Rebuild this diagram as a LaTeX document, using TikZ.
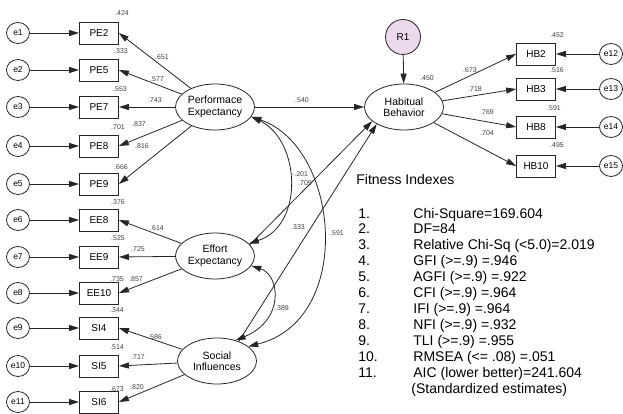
\documentclass[tikz,border=0pt]{standalone}
\usepackage{fontspec}
\setmainfont{Liberation Sans}
\usetikzlibrary{arrows.meta,shapes.geometric}
\begin{document}
\begin{tikzpicture}[x=1pt,y=-1pt,
  line width=0.8pt, draw=black!85,
  tip/.style={-{Triangle[length=10pt,width=6pt]}},
  dtip/.style={{Triangle[length=10pt,width=6pt]}-{Triangle[length=10pt,width=6pt]}},
  obs/.style={draw, minimum width=39pt, minimum height=22pt, inner sep=0pt, font=\fontsize{10}{12}\selectfont},
  err/.style={draw, ellipse, minimum width=23pt, minimum height=21pt, inner sep=0pt, font=\fontsize{8.5}{10}\selectfont},
  lat/.style={draw, ellipse, minimum width=79pt, minimum height=46pt, inner sep=0pt, align=center, font=\fontsize{10.5}{11.5}\selectfont},
  lab/.style={font=\fontsize{7}{8}\selectfont, text=black!75, inner sep=0pt},
  fit/.style={anchor=base west, inner sep=0pt, font=\fontsize{14}{16}\selectfont},
]
\useasboundingbox (0,0) rectangle (623,414);

% indicators and errors (left)
\foreach \n/\y [count=\i] in {PE2/33,PE5/70,PE7/107,PE8/146,PE9/184,EE8/220,EE9/257,EE10/293,SI4/328,SI5/366,SI6/402}{
  \node[obs] (\n) at (99,\y) {\n};
  \node[err] (e\i) at (18,\y) {e\i};
  \draw[tip] (e\i) -- (\n);
}

% latent variables
\node[lat] (PE) at (215,107) {Performace\\Expectancy};
\node[lat] (EE) at (215,256) {Effort\\Expectancy};
\node[lat] (SI) at (217,361) {Social\\Influences};
\node[lat] (HB) at (404,107) {Habitual\\Behavior};
\node[draw, circle, minimum size=35pt, inner sep=0pt, fill=violet!15, font=\fontsize{10}{12}\selectfont] (R1) at (403,37) {R1};

% right indicators
\foreach \n/\y/\k in {HB2/54/12,HB3/89/13,HB8/127/14,HB10/166/15}{
  \node[obs] (\n) at (536,\y) {\n};
  \node[err] (e\k) at (611,\y) {e\k};
  \draw[tip] (e\k) -- (\n);
  \draw[tip] (HB) -- (\n.west);
}

% loadings
\foreach \n in {PE2,PE5,PE7,PE8,PE9}{ \draw[tip] (PE) -- (\n.east); }
\foreach \n in {EE8,EE9,EE10}{ \draw[tip] (EE) -- (\n.east); }
\foreach \n in {SI4,SI5,SI6}{ \draw[tip] (SI) -- (\n.east); }

% structural paths
\draw[tip] (R1) -- (HB);
\draw[tip] (PE) -- (HB);
\draw[tip] (EE.18) -- (HB.204);
\draw[tip] (SI.42) -- (HB.212);

% covariances
\draw[dtip] (PE.-15) .. controls (300,140) and (305,225) .. (EE.20);
\draw[dtip] (PE.-15) .. controls (340,147) and (355,320) .. (SI.25);
\draw[dtip] (EE.-15) .. controls (280,275) and (285,320) .. (SI.48);

% labels
\node[lab] (l1) at (122,13) {.424};
\node[lab] (l2) at (121,51) {.333};
\node[lab] (l3) at (120,89) {.553};
\node[lab] (l4) at (118,127) {.701};
\node[lab] (l5) at (139,124) {.837};
\node[lab] (l6) at (121,167) {.666};
\node[lab] (l7) at (118,202) {.376};
\node[lab] (l8) at (162,57) {.651};
\node[lab] (l9) at (157,79) {.577};
\node[lab] (l10) at (155,100) {.743};
\node[lab] (l11) at (142,146) {.816};
\node[lab] (l12) at (157,228) {.614};
\node[lab] (l13) at (118,238) {.525};
\node[lab] (l14) at (138,249) {.725};
\node[lab] (l15) at (117,279) {.735};
\node[lab] (l16) at (136,279) {.857};
\node[lab] (l17) at (117,310) {.344};
\node[lab] (l18) at (155,337) {.586};
\node[lab] (l19) at (117,347) {.514};
\node[lab] (l20) at (138,357) {.717};
\node[lab] (l21) at (117,389) {.673};
\node[lab] (l22) at (137,387) {.820};
\node[lab] (l23) at (302,100) {.540};
\node[lab] (l24) at (427,78) {.450};
\node[lab] (l25) at (470,70) {.673};
\node[lab] (l26) at (475,89) {.718};
\node[lab] (l27) at (487,112) {.769};
\node[lab] (l28) at (487,133) {.704};
\node[lab] (l29) at (557,35) {.452};
\node[lab] (l30) at (557,70) {.516};
\node[lab] (l31) at (554,108) {.591};
\node[lab] (l32) at (557,145) {.495};
\node[lab] (l33) at (300,174) {-.201};
\node[lab] (l34) at (305,183) {.709};
\node[lab] (l35) at (298,227) {.333};
\node[lab] (l36) at (337,233) {.591};
\node[lab] (l37) at (282,308) {.389};

% fitness indexes
\node[fit] (fh) at (356,185) {Fitness Indexes};
\foreach \t [count=\i] in {Chi-Square=169.604,DF=84,Relative Chi-Sq (<5.0)=2.019,GFI (>=.9) =.946,AGFI (>=.9) =.922,CFI (>=.9) =.964,IFI (>=.9) =.964,NFI (>=.9) =.932,TLI (>=.9) =.955,RMSEA (<= .08) =.051,AIC (lower better)=241.604}{
  \node[fit] (fn\i) at (358,{218+15.9*(\i-1)}) {\i.};
  \node[fit] (ft\i) at (413,{218+15.9*(\i-1)}) {\t};
}
\node[fit] (fs) at (411,393) {(Standardized estimates)};
\end{tikzpicture}
\end{document}
